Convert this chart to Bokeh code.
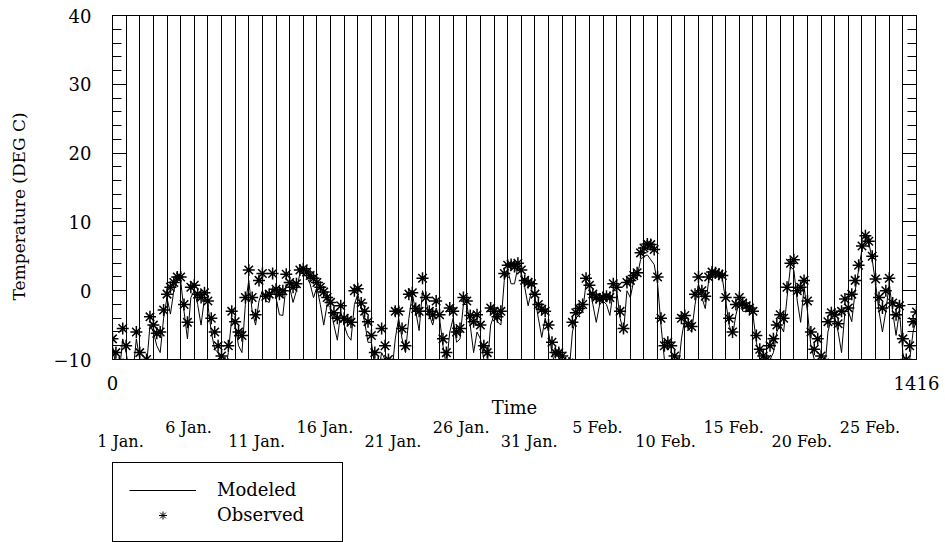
from bokeh.plotting import figure
from bokeh.layouts import column
from bokeh.models import FixedTicker, LinearAxis, Grid, Range1d, Legend, LegendItem
from bokeh.embed import file_html
from bokeh.resources import INLINE

FONT = "DejaVu Serif"

# ---- data (6-hourly samples, hours since 1 Jan 00:00) ----
hours = list(range(0, 1417, 6))

observed = [
    -7, -9, -10.5, -5.5,      -8, -11, -11, -6,        -9, -11, -10, -3.8,      -5, -6.2, -6, -2.8,
    -0.5, 0.5, 1.2, 2,        2, -2, -4.6, 0.5,        0.8, -0.5, -1, -0.3,     -1.5, -4, -6, -8,
    -9.5, -10.5, -8, -3,      -4.5, -6, -6.5, -1,      3, -1, -3.5, 1.5,        2.5, -0.8, -0.5, 2.5,
    0.2, -0.5, 0, 2.4,        1.2, 0.5, 1, 3,          3.2, 2.7, 2.2, 1.8,      1.2, 0.5, -0.2, -1,
    -1.7, -3.2, -4, -2.2,     -4, -4.3, -4.6, 0,       0.3, -1.8, -3, -4.5,     -6.5, -9, -10.5, -5.5,
    -8, -10, -11, -3,         -3, -5.5, -8, -0.5,      -0.3, -2.6, -3, 1.8,     -1, -3, -3.5, -1.5,
    -3.5, -7, -9, -2.5,       -3, -6, -5.5, -1,        -1.5, -3.6, -4.5, -3.5,  -5, -8, -9, -2.5,
    -3, -3.8, -3, 2.5,        3.7, 3.8, 3.5, 4,        3, 1.5, 1.2, 1,          -0.5, -2, -2.7, -3,
    -5, -7.5, -9, -9,         -9.5, -10.5, -10.5, -4.6, -3.2, -2.6, -2, 1.8,    0.8, -0.5, -1, -1.2,
    -1, -0.8, -1, 1,          0.5, -3, -5.5, 1.2,      1.5, 2.2, 2.6, 5.5,      6.2, 6.8, 6.7, 6,
    2, -4, -8, -7.5,          -8, -9.5, -10.5, -4,     -3.6, -4.8, -5.2, -0.5,  2, 0, -0.8, 2,
    2.7, 2.6, 2.4, 2.2,       -1, -4, -6, -2,          -1, -1.8, -2.2, -2.5,    -3, -6.5, -8.5, -9.5,
    -10, -8, -7, -5,          -3.5, -4, 0.5, 4,        4.5, 0, 0.5, 1.5,        -1.5, -6, -8.5, -7,
    -9.5, -10.5, -4.5, -3.2,  -3.5, -4.8, -3, -1.2,    -2.5, -0.5, 1.5, 3.7,    6.5, 8, 7.2, 5,
    1.7, -1, -2.5, 0,         1.8, -1.8, -3.5, -2.2,   -7, -10, -8, -4.5,
    -3.1,
]

modeled = [
    -8, -11, -12, -7,         -9, -12, -12, -7,        -10, -12, -11, -5,       -6, -8, -9, -4,
    -1, -3.4, 0, 1.5,         1.5, -3, -7, -1,         0, -2, -5, -1,           -2, -6, -8.5, -9,
    -10.5, -12, -9, -4,       -5, -8, -9, -2,          1.5, -3, -5, -1.5,       0, -1.5, -1.7, 0.5,
    -1, -3.5, -3.6, 1,        0.5, -1.7, 0, 2.5,       2.5, 2, 1, -1,           0.5, -2, -5, -2,
    -2.5, -5, -7.2, -3,       -5, -6.5, -7.2, -2,      -0.5, -2.5, -4.5, -7.5,  -7.5, -11, -12, -9,
    -10, -12, -12, -7,        -4, -7, -9, -4,          -0.5, -3, -5.8, 0,       -1.5, -3.5, -5, -2.5,
    -4, -8, -11, -6,          -4, -7.5, -7, -2,        -2, -5, -9, -6,          -7, -10, -11, -5,
    -3.5, -4.5, -5, 1.5,      3, 1, 1, 3.5,            2.5, 0.5, -2.2, 0,       -1, -4, -6.8, -4,
    -6, -9, -11, -11,         -11, -12, -12, -6,       -4, -3.5, -3, 1,         0.5, -2, -4.6, -2,
    -1.5, -2, -3.6, 0,        0, -4, -6, 0,            -1, 1.5, 2, 4.5,         5, 5.2, 4.5, 3.8,
    1, -5, -10, -11,          -10, -12, -12, -7,       -4, -5.5, -6, -2,        1, -1, -2.6, 1.5,
    2.3, 2, 2, 1.8,           -1.5, -5, -6.5, -3.5,    -1.5, -3, -3, -2.8,      -3.5, -7.5, -10, -11,
    -11.5, -10, -9, -6,       -5, -6, -1, 3.5,         3, -1.5, -4.6, 0.5,      -3, -8, -10, -11,
    -11, -12, -6, -4,         -4, -6, -9, -3,          -3, -4.5, 0, 3,          6, 7.5, 7, 4.5,
    1, -3, -6, -3,            1, -3, -6.5, -3,         -9, -11.5, -10, -6,
    -4,
]

n_days = 59
y_ticks = [-10, 0, 10, 20, 30, 40]
y_labels = ["\u221210", "0", "10", "20", "30", "40"]
y_minor = list(range(-10, 41, 2))
x_end_ticks = [0, 1416]
x_end_labels = ["0", "1416"]
date_days_upper = [5, 15, 25, 35, 45, 55]
date_labels_upper = ["6 Jan.", "16 Jan.", "26 Jan.", "5 Feb.", "15 Feb.", "25 Feb."]
date_days_lower = [0, 10, 20, 30, 40, 50]
date_labels_lower = ["1 Jan.", "11 Jan.", "21 Jan.", "31 Jan.", "10 Feb.", "20 Feb."]

# ---- main figure ----
p = figure(width=945, height=462, x_range=Range1d(0, 1416), y_range=Range1d(-10, 40),
           output_backend="svg", toolbar_location=None,
           x_axis_type=None, y_axis_type=None,
           min_border_left=112, min_border_right=29, min_border_top=15, min_border_bottom=103)
p.outline_line_color = "black"
p.outline_line_alpha = 1
p.outline_line_width = 1
p.background_fill_color = "white"
p.border_fill_color = "white"

# day lines
day_lines = [24 * d for d in range(1, n_days)]
p.add_layout(Grid(dimension=0, ticker=FixedTicker(ticks=day_lines),
                  grid_line_color="black", grid_line_width=1, grid_line_alpha=1))

# y axes
common_y = dict(major_tick_in=14, major_tick_out=0, minor_tick_in=9, minor_tick_out=0,
                axis_line_color="black", major_tick_line_color="black",
                minor_tick_line_color="black")
yl = LinearAxis(ticker=FixedTicker(ticks=y_ticks, minor_ticks=y_minor),
                major_label_overrides={t: l for t, l in zip(y_ticks, y_labels)},
                major_label_standoff=21,
                major_label_text_font=FONT, major_label_text_font_size="18px",
                major_label_text_color="black",
                axis_label="Temperature (DEG C)" + "\u00a0" * 7,
                axis_label_text_font=FONT, axis_label_text_font_size="17px",
                axis_label_text_font_style="normal", axis_label_text_color="black",
                axis_label_standoff=22, **common_y)
p.add_layout(yl, "left")
yr = LinearAxis(ticker=FixedTicker(ticks=y_ticks, minor_ticks=y_minor),
                major_label_overrides={t: "" for t in y_ticks},
                major_label_standoff=0, **common_y)
p.add_layout(yr, "right")

# x axis: end values + title
xa = LinearAxis(ticker=FixedTicker(ticks=x_end_ticks),
                major_label_overrides={t: l for t, l in zip(x_end_ticks, x_end_labels)},
                major_tick_in=0, major_tick_out=0, axis_line_color=None,
                major_label_standoff=16,
                major_label_text_font=FONT, major_label_text_font_size="18px",
                major_label_text_color="black",
                axis_label="Time", axis_label_text_font=FONT, axis_label_text_font_size="18px",
                axis_label_text_font_style="normal", axis_label_text_color="black",
                axis_label_standoff=4)
p.add_layout(xa, "below")

# date labels in two staggered rows
date_common = dict(major_tick_in=0, major_tick_out=0, axis_line_color=None,
                   major_label_text_font=FONT, major_label_text_font_size="16px",
                   major_label_text_color="black")
up_ticks = [d * 24 + 14 for d in date_days_upper]
xb = LinearAxis(ticker=FixedTicker(ticks=up_ticks),
                major_label_overrides={t: l for t, l in zip(up_ticks, date_labels_upper)},
                major_label_standoff=-3, **date_common)
p.add_layout(xb, "below")
lo_ticks = [d * 24 + 14 for d in date_days_lower]
xc = LinearAxis(ticker=FixedTicker(ticks=lo_ticks),
                major_label_overrides={t: l for t, l in zip(lo_ticks, date_labels_lower)},
                major_label_standoff=-8, **date_common)
p.add_layout(xc, "below")

# data
p.line(hours, modeled, line_color="black", line_width=1)
p.scatter(hours, observed, marker="asterisk", size=12, line_color="black", line_width=1.5)

# ---- legend panel below the plot (its series sit outside its visible range) ----
lg = figure(width=945, height=80, output_backend="svg", toolbar_location=None,
            x_range=Range1d(0, 1416), y_range=Range1d(50, 60),
            x_axis_type=None, y_axis_type=None,
            min_border_left=112, min_border_right=29, min_border_top=0, min_border_bottom=0)
lg.outline_line_color = None
lg.background_fill_color = "white"
lg.border_fill_color = "white"
lg_mod = lg.line(hours, modeled, line_color="black", line_width=1)
lg_obs = lg.scatter(hours, observed, marker="asterisk", size=9, line_color="black", line_width=1)
legend = Legend(items=[LegendItem(label="Modeled", renderers=[lg_mod]),
                       LegendItem(label="Observed", renderers=[lg_obs])],
                location="top_left", orientation="vertical",
                label_text_font=FONT, label_text_font_size="18px", label_text_color="black",
                border_line_color="black", border_line_width=1, border_line_alpha=1,
                background_fill_color="white", background_fill_alpha=1,
                padding=16, spacing=4, margin=0, glyph_width=67, glyph_height=20,
                label_standoff=21, label_width=109)
lg.add_layout(legend)

page = column(p, lg, spacing=0)
open("out.html", "w").write(file_html(page, INLINE))
